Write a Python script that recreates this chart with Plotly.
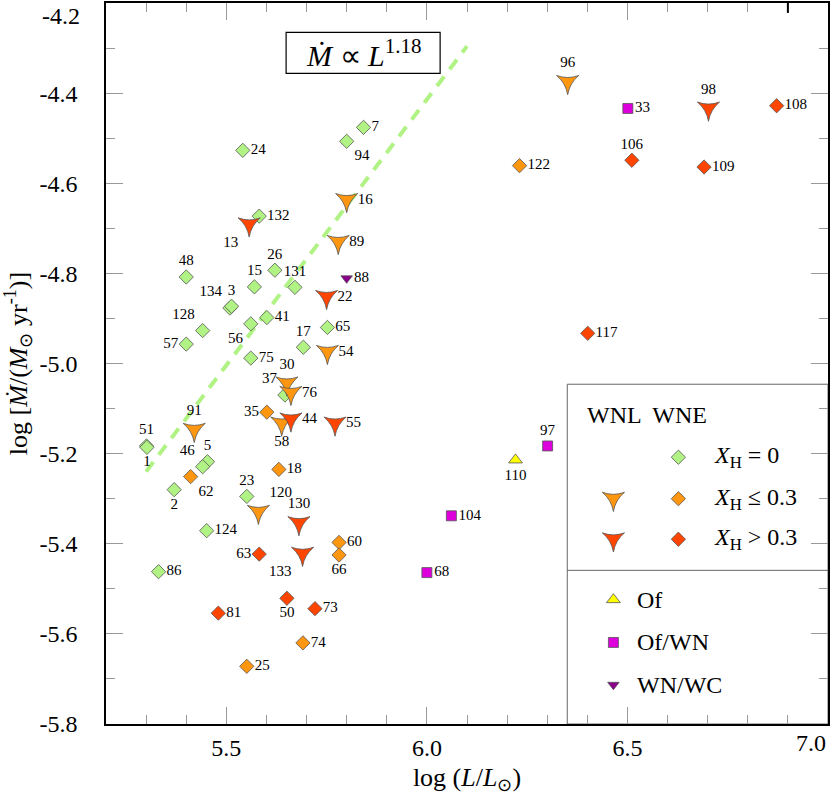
import plotly.graph_objects as go

# --- data: log L, log Mdot, star number, label position ---
# WNL stars (three-pointed star markers)
wnl_mid_x = [5.800, 5.779, 5.752, 5.651, 5.661, 5.638, 5.420, 5.580, 6.351]
wnl_mid_y = [-4.637, -4.730, -4.974, -5.044, -5.065, -5.133, -5.147, -5.329, -4.375]
wnl_mid_id = ["16", "89", "54", "30", "76", "58", "91", "120", "96"]
wnl_mid_pos = ["middle right", "middle right", "middle right", "top center", "middle right",
               "bottom center", "top center", "top right", "top center"]

wnl_hi_x = [5.557, 5.750, 5.661, 5.771, 5.681, 5.690, 6.702]
wnl_hi_y = [-4.691, -4.852, -5.124, -5.133, -5.354, -5.422, -4.434]
wnl_hi_id = ["13", "22", "44", "55", "130", "133", "98"]
wnl_hi_pos = ["bottom left", "middle right", "middle right", "middle right", "top center",
              "bottom left", "top center"]

# WNE stars (diamonds)
wne_0_x = [5.541, 5.842, 5.800, 5.582, 5.400, 5.621, 5.570, 5.671, 5.509, 5.513, 5.561,
           5.601, 5.752, 5.441, 5.400, 5.692, 5.561, 5.646, 5.301, 5.302, 5.453, 5.441,
           5.370, 5.551, 5.451, 5.331]
wne_0_y = [-4.527, -4.476, -4.507, -4.673, -4.808, -4.793, -4.830, -4.831, -4.877, -4.873,
           -4.912, -4.898, -4.920, -4.927, -4.957, -4.964, -4.988, -5.070, -5.183, -5.186,
           -5.218, -5.229, -5.280, -5.295, -5.371, -5.462]
wne_0_id = ["24", "7", "94", "132", "48", "26", "15", "131", "134", "3", "56", "41", "65",
            "128", "57", "17", "75", "37", "51", "1", "5", "46", "2", "23", "124", "86"]
wne_0_pos = ["middle right", "middle right", "bottom right", "middle right", "top center",
             "top center", "top center", "top center", "top left", "top center",
             "bottom left", "middle right", "middle right", "top left", "middle left",
             "top center", "middle right", "top left", "top center", "bottom center",
             "top center", "top left", "bottom center", "top center", "middle right",
             "middle right"]

wne_mid_x = [5.601, 5.631, 5.411, 5.781, 5.781, 5.691, 5.551, 6.231]
wne_mid_y = [-5.108, -5.235, -5.251, -5.397, -5.425, -5.620, -5.672, -4.561]
wne_mid_id = ["35", "18", "62", "60", "66", "74", "25", "122"]
wne_mid_pos = ["middle left", "middle right", "bottom right", "middle right", "bottom center",
               "middle right", "middle right", "middle right"]

wne_hi_x = [5.582, 5.651, 5.721, 5.480, 6.872, 6.511, 6.691, 6.401]
wne_hi_y = [-5.423, -5.521, -5.544, -5.554, -4.428, -4.549, -4.564, -4.933]
wne_hi_id = ["63", "50", "73", "81", "108", "106", "109", "117"]
wne_hi_pos = ["middle left", "bottom center", "middle right", "middle right", "middle right",
              "top center", "middle right", "middle right"]

of_x = [6.221]
of_y = [-5.214]
of_id = ["110"]
of_pos = ["bottom center"]

ofwn_x = [6.501, 6.301, 6.061, 6.000]
ofwn_y = [-4.434, -5.183, -5.338, -5.464]
ofwn_id = ["33", "97", "104", "68"]
ofwn_pos = ["middle right", "top center", "middle right", "middle right"]

wnwc_x = [5.800]
wnwc_y = [-4.811]
wnwc_id = ["88"]
wnwc_pos = ["middle right"]

# fit line Mdot ~ L^1.18
fit_x = [5.30, 6.10]
fit_y = [-5.240, -4.296]

x_ticks = [5.5, 6.0, 6.5, 7.0]
x_ticktext = ["5.5", "6.0", "6.5", "7.0"]
y_ticks = [-4.2, -4.4, -4.6, -4.8, -5.0, -5.2, -5.4, -5.6, -5.8]
y_ticktext = ["-4.2", "-4.4", "-4.6", "-4.8", "-5.0", "-5.2", "-5.4", "-5.6", "-5.8"]

GREEN = "#b0f384"
ORANGE = "#ff960f"
RED = "#ff4500"
MAGENTA = "#dd00dd"
PURPLE = "#8b008b"
YELLOW = "#ffff00"
FONT = "Liberation Serif, Times New Roman, serif"
TICK_FONT = dict(family=FONT, size=24, color="black")
OUTLINE = dict(color="#555555", width=0.8)

fig = go.Figure()

fig.add_trace(go.Scatter(
    x=fit_x, y=fit_y, mode="lines",
    line=dict(color=GREEN, width=4, dash="12px,9px"),
    hoverinfo="skip"
))


def add_group(xs, ys, ids, pos, symbol, color, size):
    fig.add_trace(go.Scatter(
        x=xs, y=ys, text=ids, mode="markers+text",
        textposition=pos,
        textfont=dict(family=FONT, size=15, color="black"),
        marker=dict(symbol=symbol, color=color, size=size, line=OUTLINE)
    ))


add_group(wne_0_x, wne_0_y, wne_0_id, wne_0_pos, "diamond", GREEN, 11)
add_group(wne_mid_x, wne_mid_y, wne_mid_id, wne_mid_pos, "diamond", ORANGE, 11)
add_group(wne_hi_x, wne_hi_y, wne_hi_id, wne_hi_pos, "diamond", RED, 11)
add_group(wnl_mid_x, wnl_mid_y, wnl_mid_id, wnl_mid_pos, "star-triangle-down", ORANGE, 16)
add_group(wnl_hi_x, wnl_hi_y, wnl_hi_id, wnl_hi_pos, "star-triangle-down", RED, 16)
add_group(of_x, of_y, of_id, of_pos, "triangle-up", YELLOW, 12)
add_group(ofwn_x, ofwn_y, ofwn_id, ofwn_pos, "square", MAGENTA, 10)
add_group(wnwc_x, wnwc_y, wnwc_id, wnwc_pos, "triangle-down", PURPLE, 10)

# --- hand-made legend (data coordinates of the lower right box) ---
leg_star_x = 6.465
leg_dia_x = 6.627
leg_txt_x = 6.712
leg_rows = [-5.208, -5.300, -5.390]
low_rows = [-5.524, -5.619, -5.713]

legend_marks = [
    (leg_dia_x, leg_rows[0], "diamond", GREEN, 11),
    (leg_dia_x, leg_rows[1], "diamond", ORANGE, 11),
    (leg_dia_x, leg_rows[2], "diamond", RED, 11),
    (leg_star_x, leg_rows[1], "star-triangle-down", ORANGE, 16),
    (leg_star_x, leg_rows[2], "star-triangle-down", RED, 16),
    (leg_star_x, low_rows[0], "triangle-up", YELLOW, 12),
    (leg_star_x, low_rows[1], "square", MAGENTA, 10),
    (leg_star_x, low_rows[2], "triangle-down", PURPLE, 10),
]
for lx, ly, sym, col, sz in legend_marks:
    fig.add_trace(go.Scatter(
        x=[lx], y=[ly], mode="markers", hoverinfo="skip",
        marker=dict(symbol=sym, size=sz, color=col, line=OUTLINE)
    ))

leg_font = dict(family=FONT, size=24, color="black")
fig.add_annotation(x=6.395, y=-5.114, text="WNL  WNE", showarrow=False,
                   xanchor="left", font=leg_font)
for row, txt in zip(leg_rows, ["<i>X</i><sub>H</sub> = 0", "<i>X</i><sub>H</sub> ≤ 0.3",
                               "<i>X</i><sub>H</sub> > 0.3"]):
    fig.add_annotation(x=leg_txt_x, y=row, text=txt, showarrow=False,
                       xanchor="left", font=leg_font)
for row, txt in zip(low_rows, ["Of", "Of/WN", "WN/WC"]):
    fig.add_annotation(x=6.520, y=row, text=txt, showarrow=False,
                       xanchor="left", font=leg_font)

fig.add_shape(type="rect", x0=6.350, x1=7.0, y0=-5.8, y1=-5.046, layer="below",
              line=dict(color="#666666", width=1))
fig.add_shape(type="line", x0=6.350, x1=7.0, y0=-5.459, y1=-5.459, layer="below",
              line=dict(color="#666666", width=1))

# fit label box
fig.add_shape(type="rect", x0=5.649, x1=6.033, y0=-4.356, y1=-4.265,
              line=dict(color="black", width=1.2))
fig.add_annotation(x=5.841, y=-4.311, showarrow=False,
                   text="<i>Ṁ</i> ∝ <i>L</i><sup>1.18</sup>",
                   font=dict(family=FONT, size=30, color="black"))

# dark tick at top right
fig.add_shape(type="line", x0=6.9, x1=6.9, y0=-4.2, y1=-4.222,
              line=dict(color="black", width=2))

# edge tick labels pulled inside the page, as in the original
fig.add_annotation(x=x_ticks[-1], y=y_ticks[-1], text=x_ticktext[-1], showarrow=False,
                   xanchor="right", yanchor="top", yshift=-4, font=TICK_FONT)
fig.add_annotation(x=5.2, y=y_ticks[0], text=y_ticktext[0], showarrow=False,
                   xanchor="right", yanchor="top", xshift=-24, yshift=2,
                   font=TICK_FONT)

axis_common = dict(
    showgrid=False, zeroline=False, showline=True, mirror="ticks",
    linecolor="black", linewidth=1.5, automargin=False,
    ticks="inside", ticklen=17, tickcolor="#999999", tickwidth=1,
    tickfont=TICK_FONT,
    minor=dict(ticks="inside", ticklen=9, tickcolor="#999999", dtick=0.1),
)

fig.update_xaxes(
    range=[5.2, 7.0], tickvals=x_ticks[:-1], ticktext=x_ticktext[:-1],
    ticklabelstandoff=1,
    title=dict(text="log (<i>L</i>/<i>L</i><sub>⊙</sub>)",
               font=dict(family=FONT, size=26, color="black"), standoff=8),
    **axis_common
)
fig.update_yaxes(
    range=[-5.8, -4.2], tickvals=y_ticks[1:], ticktext=y_ticktext[1:],
    ticklabelstandoff=22,
    title=dict(text="log [<i>Ṁ</i>/(<i>M</i><sub>⊙</sub> yr<sup>-1</sup>)]",
               font=dict(family=FONT, size=26, color="black")),
    **axis_common
)
fig.update_yaxes(minor_tick0=-4.3, minor_dtick=0.2)

fig.update_layout(
    width=830, height=800,
    margin=dict(l=106, r=2, t=3, b=76),
    plot_bgcolor="white", paper_bgcolor="white",
    showlegend=False,
)

# the page's default body margin would shift the chart, drop it
fig.write_html("out.html", config={"displayModeBar": False},
               post_script="document.body.style.margin='0';")
